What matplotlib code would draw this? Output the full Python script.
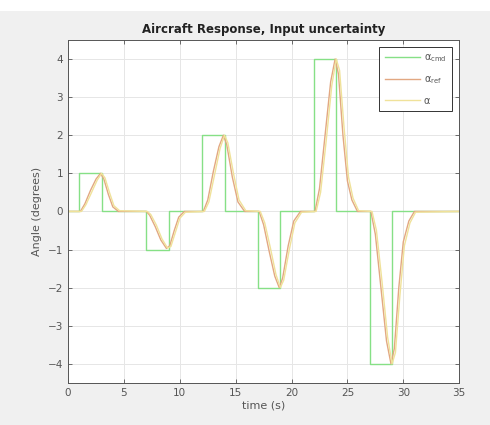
import matplotlib
matplotlib.use("Agg")
import matplotlib.pyplot as plt
from matplotlib.patches import Rectangle

# commanded angle of attack (step sequence)
t_cmd = [0, 1, 1, 3, 3, 7, 7, 9, 9, 12, 12, 14, 14, 17, 17, 19, 19, 22, 22, 24, 24, 27, 27, 29, 29, 35]
a_cmd = [0, 0, 1, 1, 0, 0, -1, -1, 0, 0, 2, 2, 0, 0, -2, -2, 0, 0, 4, 4, 0, 0, -4, -4, 0, 0]

# reference model output
t_ref = [0, 1.1, 1.5, 2.0, 2.5, 2.9, 3.2, 3.6, 4.0, 4.5,
         7.0, 7.3, 7.8, 8.3, 8.8, 9.1, 9.5, 9.9, 10.4,
         12.1, 12.5, 13.0, 13.5, 13.9, 14.2, 14.7, 15.2, 15.8,
         17.1, 17.5, 18.0, 18.5, 18.9, 19.2, 19.7, 20.2, 20.8,
         22.1, 22.5, 23.0, 23.5, 23.9, 24.2, 24.6, 25.0, 25.4, 25.9,
         27.1, 27.5, 28.0, 28.5, 28.9, 29.2, 29.6, 30.0, 30.5, 31.0, 35]
a_ref = [0, 0, 0.2, 0.55, 0.85, 1.0, 0.85, 0.45, 0.12, 0.0,
         0, -0.1, -0.4, -0.75, -0.97, -0.9, -0.5, -0.15, 0.0,
         0, 0.3, 1.05, 1.7, 2.0, 1.75, 0.9, 0.25, 0.0,
         0, -0.35, -1.05, -1.7, -2.0, -1.75, -0.9, -0.25, 0.0,
         0, 0.6, 2.0, 3.4, 4.0, 3.6, 2.0, 0.8, 0.3, 0.0,
         0, -0.6, -2.0, -3.4, -4.0, -3.6, -2.0, -0.8, -0.25, 0.0, 0]

# aircraft response
t_a = [0, 1.2, 1.6, 2.1, 2.6, 3.0, 3.3, 3.7, 4.1, 4.6,
       7.1, 7.4, 7.9, 8.4, 8.9, 9.2, 9.6, 10.0, 10.5,
       12.2, 12.6, 13.1, 13.6, 14.0, 14.3, 14.8, 15.3, 15.9,
       17.2, 17.6, 18.1, 18.6, 19.0, 19.3, 19.8, 20.3, 20.9,
       22.2, 22.6, 23.1, 23.6, 24.0, 24.3, 24.7, 25.1, 25.5, 26.0,
       27.2, 27.6, 28.1, 28.6, 29.0, 29.3, 29.7, 30.1, 30.6, 31.1, 35]
a_act = [0, 0, 0.18, 0.5, 0.82, 1.0, 0.88, 0.5, 0.15, 0.02,
         0, -0.08, -0.36, -0.72, -0.96, -0.92, -0.55, -0.18, -0.02,
         0, 0.25, 0.95, 1.65, 2.0, 1.8, 1.0, 0.3, 0.02,
         0, -0.3, -0.95, -1.65, -2.0, -1.8, -1.0, -0.3, -0.02,
         0, 0.5, 1.85, 3.3, 4.0, 3.7, 2.2, 0.9, 0.35, 0.02,
         0, -0.5, -1.85, -3.3, -4.0, -3.7, -2.2, -0.9, -0.3, -0.02, 0]

fig = plt.figure(figsize=(4.9, 4.25), dpi=100, facecolor='#f0f0f0')
fig.patches.append(Rectangle((0, 0.974), 1, 0.026, transform=fig.transFigure,
                             facecolor='white', edgecolor='none', zorder=0))
ax = fig.add_axes([0.139, 0.099, 0.798, 0.807])
ax.set_facecolor('white')

ax.plot(t_cmd, a_cmd, color='#86e086', lw=1.0, label=r'α$_{\mathrm{cmd}}$')
ax.plot(t_ref, a_ref, color='#e2a882', lw=1.0, label=r'α$_{\mathrm{ref}}$')
ax.plot(t_a, a_act, color='#f0e29a', lw=1.0, label='α')

ax.set_xlim(0, 35)
ax.set_ylim(-4.5, 4.5)
ax.set_xticks(range(0, 36, 5))
ax.set_yticks(range(-4, 5))
ax.grid(True, color='#e6e6e6', lw=0.7)
ax.set_axisbelow(True)
ax.tick_params(direction='in', top=True, right=True, labelsize=7.5,
               colors='#555555', length=3, width=0.6)
for s in ax.spines.values():
    s.set_color('#555555')
    s.set_linewidth(0.7)

ax.set_title('Aircraft Response, Input uncertainty', fontsize=8.5,
             fontweight='bold', color='#222222', pad=5)
ax.set_xlabel('time (s)', fontsize=8, color='#555555', labelpad=2)
ax.set_ylabel('Angle (degrees)', fontsize=8, color='#555555', labelpad=4)

leg = ax.legend(loc='upper right', fontsize=7, handlelength=3.6,
                handletextpad=0.4, fancybox=False, framealpha=1,
                borderaxespad=0.7, labelspacing=1.0, borderpad=0.6)
leg.get_frame().set_edgecolor('#333333')
leg.get_frame().set_linewidth(0.7)
for txt in leg.get_texts():
    txt.set_color('#555555')

fig.savefig('out.png', dpi=100, facecolor=fig.get_facecolor())
